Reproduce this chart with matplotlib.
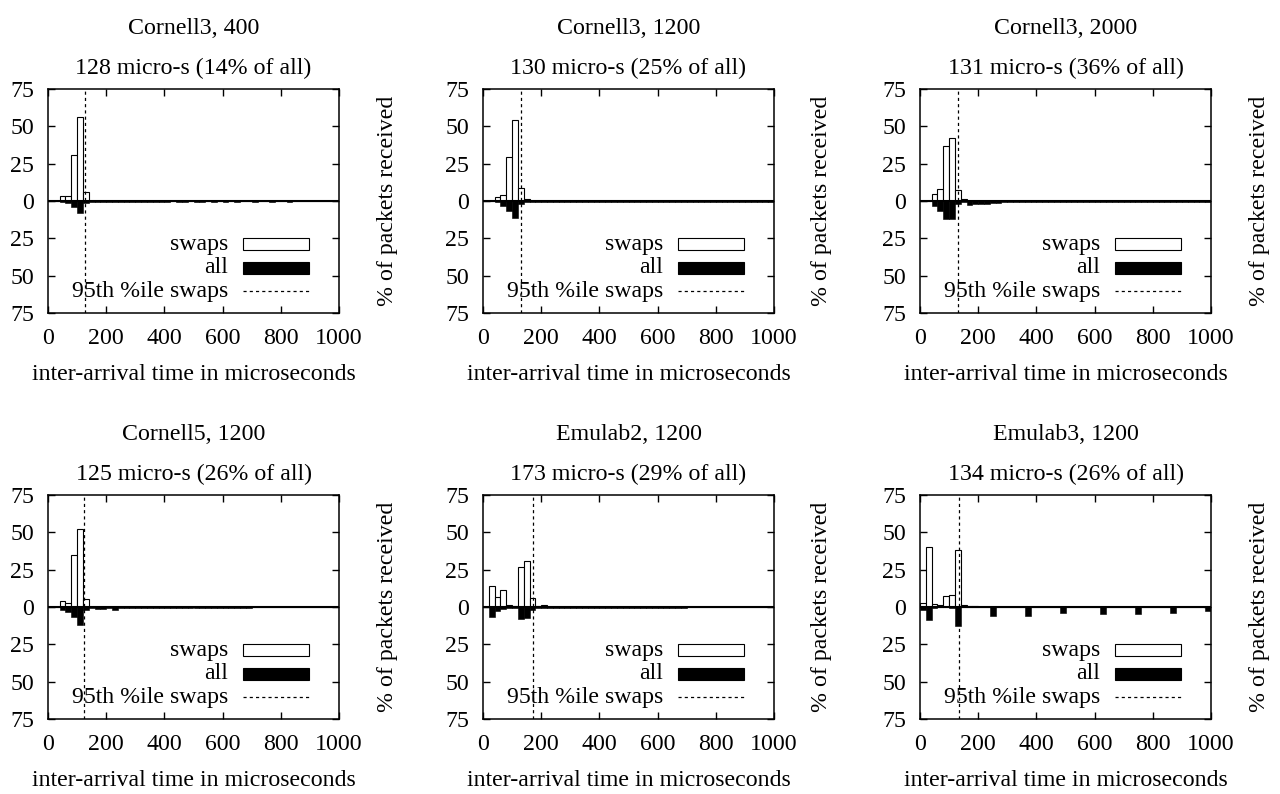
import numpy as np
import matplotlib
matplotlib.use('Agg')
import matplotlib.pyplot as plt
from matplotlib.patches import Rectangle
from matplotlib.ticker import FuncFormatter

plt.rcParams['font.family'] = ['Liberation Serif', 'DejaVu Serif']
plt.rcParams['font.size'] = 17.2

# histogram bins: 20 microsecond wide, 0..1000
bin_width = 20
bin_left = np.arange(0, 1000, bin_width)

titles = ["Cornell3, 400", "Cornell3, 1200", "Cornell3, 2000",
          "Cornell5, 1200", "Emulab2, 1200", "Emulab3, 1200"]
pct95 = [128, 130, 131, 125, 173, 134]
pct_of_all = [14, 25, 36, 26, 29, 26]

# % of swapped packets per bin (drawn upwards)
swaps_c3_400 = [0, 0, 3.1, 3.1, 31, 56, 6.3, 0.3, 0.1, 0.1,
                0, 0, 0, 0, 0, 0, 0, 0, 0, 0,
                0, 0, 0, 0, 0, 0, 0, 0, 0, 0,
                0, 0, 0, 0, 0, 0, 0, 0, 0, 0,
                0, 0, 0, 0, 0, 0, 0, 0, 0, 0]
swaps_c3_1200 = [0, 0, 2.5, 3.8, 29.7, 54, 8.5, 1.3, 0.2, 0.1,
                 0, 0, 0, 0, 0, 0, 0, 0, 0, 0,
                 0, 0, 0, 0, 0, 0, 0, 0, 0, 0,
                 0, 0, 0, 0, 0, 0, 0, 0, 0, 0,
                 0, 0, 0, 0, 0, 0, 0, 0, 0, 0]
swaps_c3_2000 = [0, 0, 4.5, 7.8, 36.8, 42, 7.4, 1.3, 0.3, 0.1,
                 0, 0, 0, 0, 0, 0, 0, 0, 0, 0,
                 0, 0, 0, 0, 0, 0, 0, 0, 0, 0,
                 0, 0, 0, 0, 0, 0, 0, 0, 0, 0,
                 0, 0, 0, 0, 0, 0, 0, 0, 0, 0]
swaps_c5_1200 = [0, 0, 3.8, 2.7, 35, 52.5, 5.1, 0.3, 0.1, 0.1,
                 0, 0, 0, 0, 0, 0, 0, 0, 0, 0,
                 0, 0, 0, 0, 0, 0, 0, 0, 0, 0,
                 0, 0, 0, 0, 0, 0, 0, 0, 0, 0,
                 0, 0, 0, 0, 0, 0, 0, 0, 0, 0]
swaps_e2_1200 = [0, 14, 6.7, 11.4, 1.6, 0.7, 26.8, 30.8, 6, 0.5,
                 1.5, 0.3, 0.2, 0.1, 0, 0, 0, 0, 0, 0,
                 0, 0, 0, 0, 0, 0, 0, 0, 0, 0,
                 0, 0, 0, 0, 0, 0, 0, 0, 0, 0,
                 0, 0, 0, 0, 0, 0, 0, 0, 0, 0]
swaps_e3_1200 = [2.9, 40.2, 2.2, 1.3, 7.1, 7.8, 38.2, 1.3, 0.5, 0.5,
                 0.3, 0.2, 0.1, 0, 0, 0, 0, 0, 0, 0,
                 0, 0, 0, 0, 0, 0, 0, 0, 0, 0,
                 0, 0, 0, 0, 0, 0, 0, 0, 0, 0,
                 0, 0, 0, 0, 0, 0, 0, 0, 0, 0]

# % of all packets per bin (drawn downwards)
all_c3_400 = [0, 0.1, 0.6, 1.5, 4.0, 8.3, 1.5, 0.5, 0.5, 0.5,
              0.6, 0.9, 0.9, 0.5, 0.4, 0.4, 0.5, 0.4, 0.4, 0.4,
              0.4, 0.3, 0.4, 0.4, 0.3, 0.4, 0.4, 0.3, 0.4, 0.3,
              0.4, 0.3, 0.4, 0.3, 0.3, 0.4, 0.3, 0.3, 0.4, 0.3,
              0.3, 0.4, 0.3, 0.3, 0.3, 0.3, 0.3, 0.3, 0.2, 0.2]
all_c3_1200 = [0, 0, 1.0, 3.3, 6.5, 11.6, 2.0, 0.8, 0.9, 0.8,
               0.8, 0.8, 0.7, 0.7, 0.7, 0.6, 0.6, 0.6, 0.6, 0.6,
               0.6, 0.5, 0.5, 0.5, 0.4, 0.4, 0.4, 0.4, 0.4, 0.4,
               0.4, 0.4, 0.4, 0.4, 0.4, 0.4, 0.4, 0.4, 0.4, 0.4,
               0.4, 0.4, 0.4, 0.4, 0.4, 0.4, 0.4, 0.4, 0.4, 0.4]
all_c3_2000 = [0, 0, 3.3, 6.5, 12.3, 12.3, 2.0, 0.5, 3.0, 2.0,
               2.0, 2.0, 1.5, 1.2, 1.0, 1.0, 0.9, 0.8, 0.8, 0.7,
               0.7, 0.7, 0.6, 0.6, 0.6, 0.6, 0.6, 0.5, 0.5, 0.5,
               0.5, 0.5, 0.5, 0.5, 0.5, 0.5, 0.5, 0.5, 0.5, 0.5,
               0.5, 0.5, 0.5, 0.5, 0.5, 0.5, 0.5, 0.5, 0.5, 0.5]
all_c5_1200 = [0, 0, 1.8, 3.3, 6.7, 11.8, 1.8, 0.5, 1.3, 1.3,
               0.6, 1.8, 0.8, 0.6, 0.5, 0.5, 0.5, 0.8, 0.5, 0.5,
               0.5, 0.5, 0.5, 0.5, 0.5, 0.5, 0.5, 0.5, 0.5, 0.5,
               0.5, 0.5, 0.5, 0.5, 0.5, 0.3, 0.3, 0.3, 0.3, 0.3,
               0.3, 0.3, 0.3, 0.3, 0.3, 0.3, 0.3, 0.3, 0.3, 0.3]
all_e2_1200 = [0, 6.5, 2.5, 1.5, 0.8, 0.8, 8.3, 7.6, 2.0, 0.5,
               0.8, 0.5, 0.5, 0.5, 0.5, 0.4, 0.4, 0.4, 0.4, 0.4,
               0.4, 0.4, 0.4, 0.4, 0.4, 0.4, 0.4, 0.4, 0.4, 0.4,
               0.4, 0.4, 0.4, 0.4, 0.4, 0.3, 0.3, 0.3, 0.3, 0.3,
               0.3, 0.3, 0.3, 0.3, 0.3, 0.3, 0.3, 0.3, 0.3, 0.3]
all_e3_1200 = [1.8, 8.9, 0.5, 0.3, 0.3, 0.5, 12.7, 0.3, 0.3, 0.2,
               0.2, 0.2, 6.2, 0.2, 0.2, 0.2, 0.2, 0.2, 6.2, 0.2,
               0.2, 0.2, 0.2, 0.2, 4.2, 0.2, 0.2, 0.2, 0.2, 0.2,
               0.2, 4.7, 0.2, 0.2, 0.2, 0.2, 0.2, 4.7, 0.2, 0.2,
               0.2, 0.2, 0.2, 4.0, 0.2, 0.2, 0.2, 0.2, 0.2, 2.7]

swaps_all = [swaps_c3_400, swaps_c3_1200, swaps_c3_2000,
             swaps_c5_1200, swaps_e2_1200, swaps_e3_1200]
all_all = [all_c3_400, all_c3_1200, all_c3_2000,
           all_c5_1200, all_e2_1200, all_e3_1200]

W, H = 1280, 794
fig = plt.figure(figsize=(W / 100, H / 100), dpi=100)

lefts = [48, 483, 920]
tops = [89, 495]
aw, ah = 291, 224

dotted = (0, (2.5, 2.5))

for i in range(6):
    left = lefts[i % 3]
    top = tops[i // 3]
    ax = fig.add_axes([left / W, 1 - (top + ah) / H, aw / W, ah / H])

    ax.bar(bin_left, swaps_all[i], width=bin_width, align='edge',
           color='white', edgecolor='black', linewidth=0.8, zorder=2)
    ax.bar(bin_left, -np.array(all_all[i]), width=bin_width, align='edge',
           color='black', edgecolor='black', linewidth=0.4, zorder=2)
    ax.axhline(0, color='black', lw=1.5, zorder=3)
    ax.axvline(pct95[i], color='black', lw=0.9, ls=dotted, zorder=4)

    ax.set_xlim(0, 1000)
    ax.set_ylim(-75, 75)
    ax.set_xticks(range(0, 1001, 200))
    ax.set_yticks(range(-75, 76, 25))
    ax.yaxis.set_major_formatter(FuncFormatter(lambda v, p: '%d' % abs(v)))
    ax.tick_params(direction='in', length=5, width=1.0, top=True, right=True,
                   labelsize=17.2)
    ax.tick_params(axis='y', pad=10)
    ax.tick_params(axis='x', pad=11)
    for s in ax.spines.values():
        s.set_linewidth(1.1)

    # gnuplot-style titles and labels
    ax.text(0.5, 1 + 61 / ah, titles[i], transform=ax.transAxes,
            ha='center', va='center')
    ax.text(0.5, 1 + 21 / ah, '%d micro-s (%d%% of all)' % (pct95[i], pct_of_all[i]),
            transform=ax.transAxes, ha='center', va='center')
    ax.text(0.5, -62 / ah, 'inter-arrival time in microseconds',
            transform=ax.transAxes, ha='center', va='center')
    ax.text(1 + 48 / aw, 0.5, '% of packets received', transform=ax.transAxes,
            rotation=90, ha='center', va='center')

    # legend, text right-aligned with samples to the right
    tx, sx0, sx1 = 0.619, 0.67, 0.897
    ys = [0.308, 0.201, 0.098]
    ax.text(tx, ys[0], 'swaps', transform=ax.transAxes, ha='right', va='center')
    ax.add_patch(Rectangle((sx0, ys[0] - 0.025), sx1 - sx0, 0.05, transform=ax.transAxes,
                           facecolor='white', edgecolor='black', lw=0.8, zorder=5))
    ax.text(tx, ys[1], 'all', transform=ax.transAxes, ha='right', va='center')
    ax.add_patch(Rectangle((sx0, ys[1] - 0.027), sx1 - sx0, 0.054, transform=ax.transAxes,
                           facecolor='black', edgecolor='black', lw=0.8, zorder=5))
    ax.text(tx, ys[2], '95th %ile swaps', transform=ax.transAxes, ha='right', va='center')
    ax.plot([sx0, sx1], [ys[2], ys[2]], transform=ax.transAxes, color='black',
            lw=0.9, ls=dotted)

fig.savefig('out.png', dpi=100)
